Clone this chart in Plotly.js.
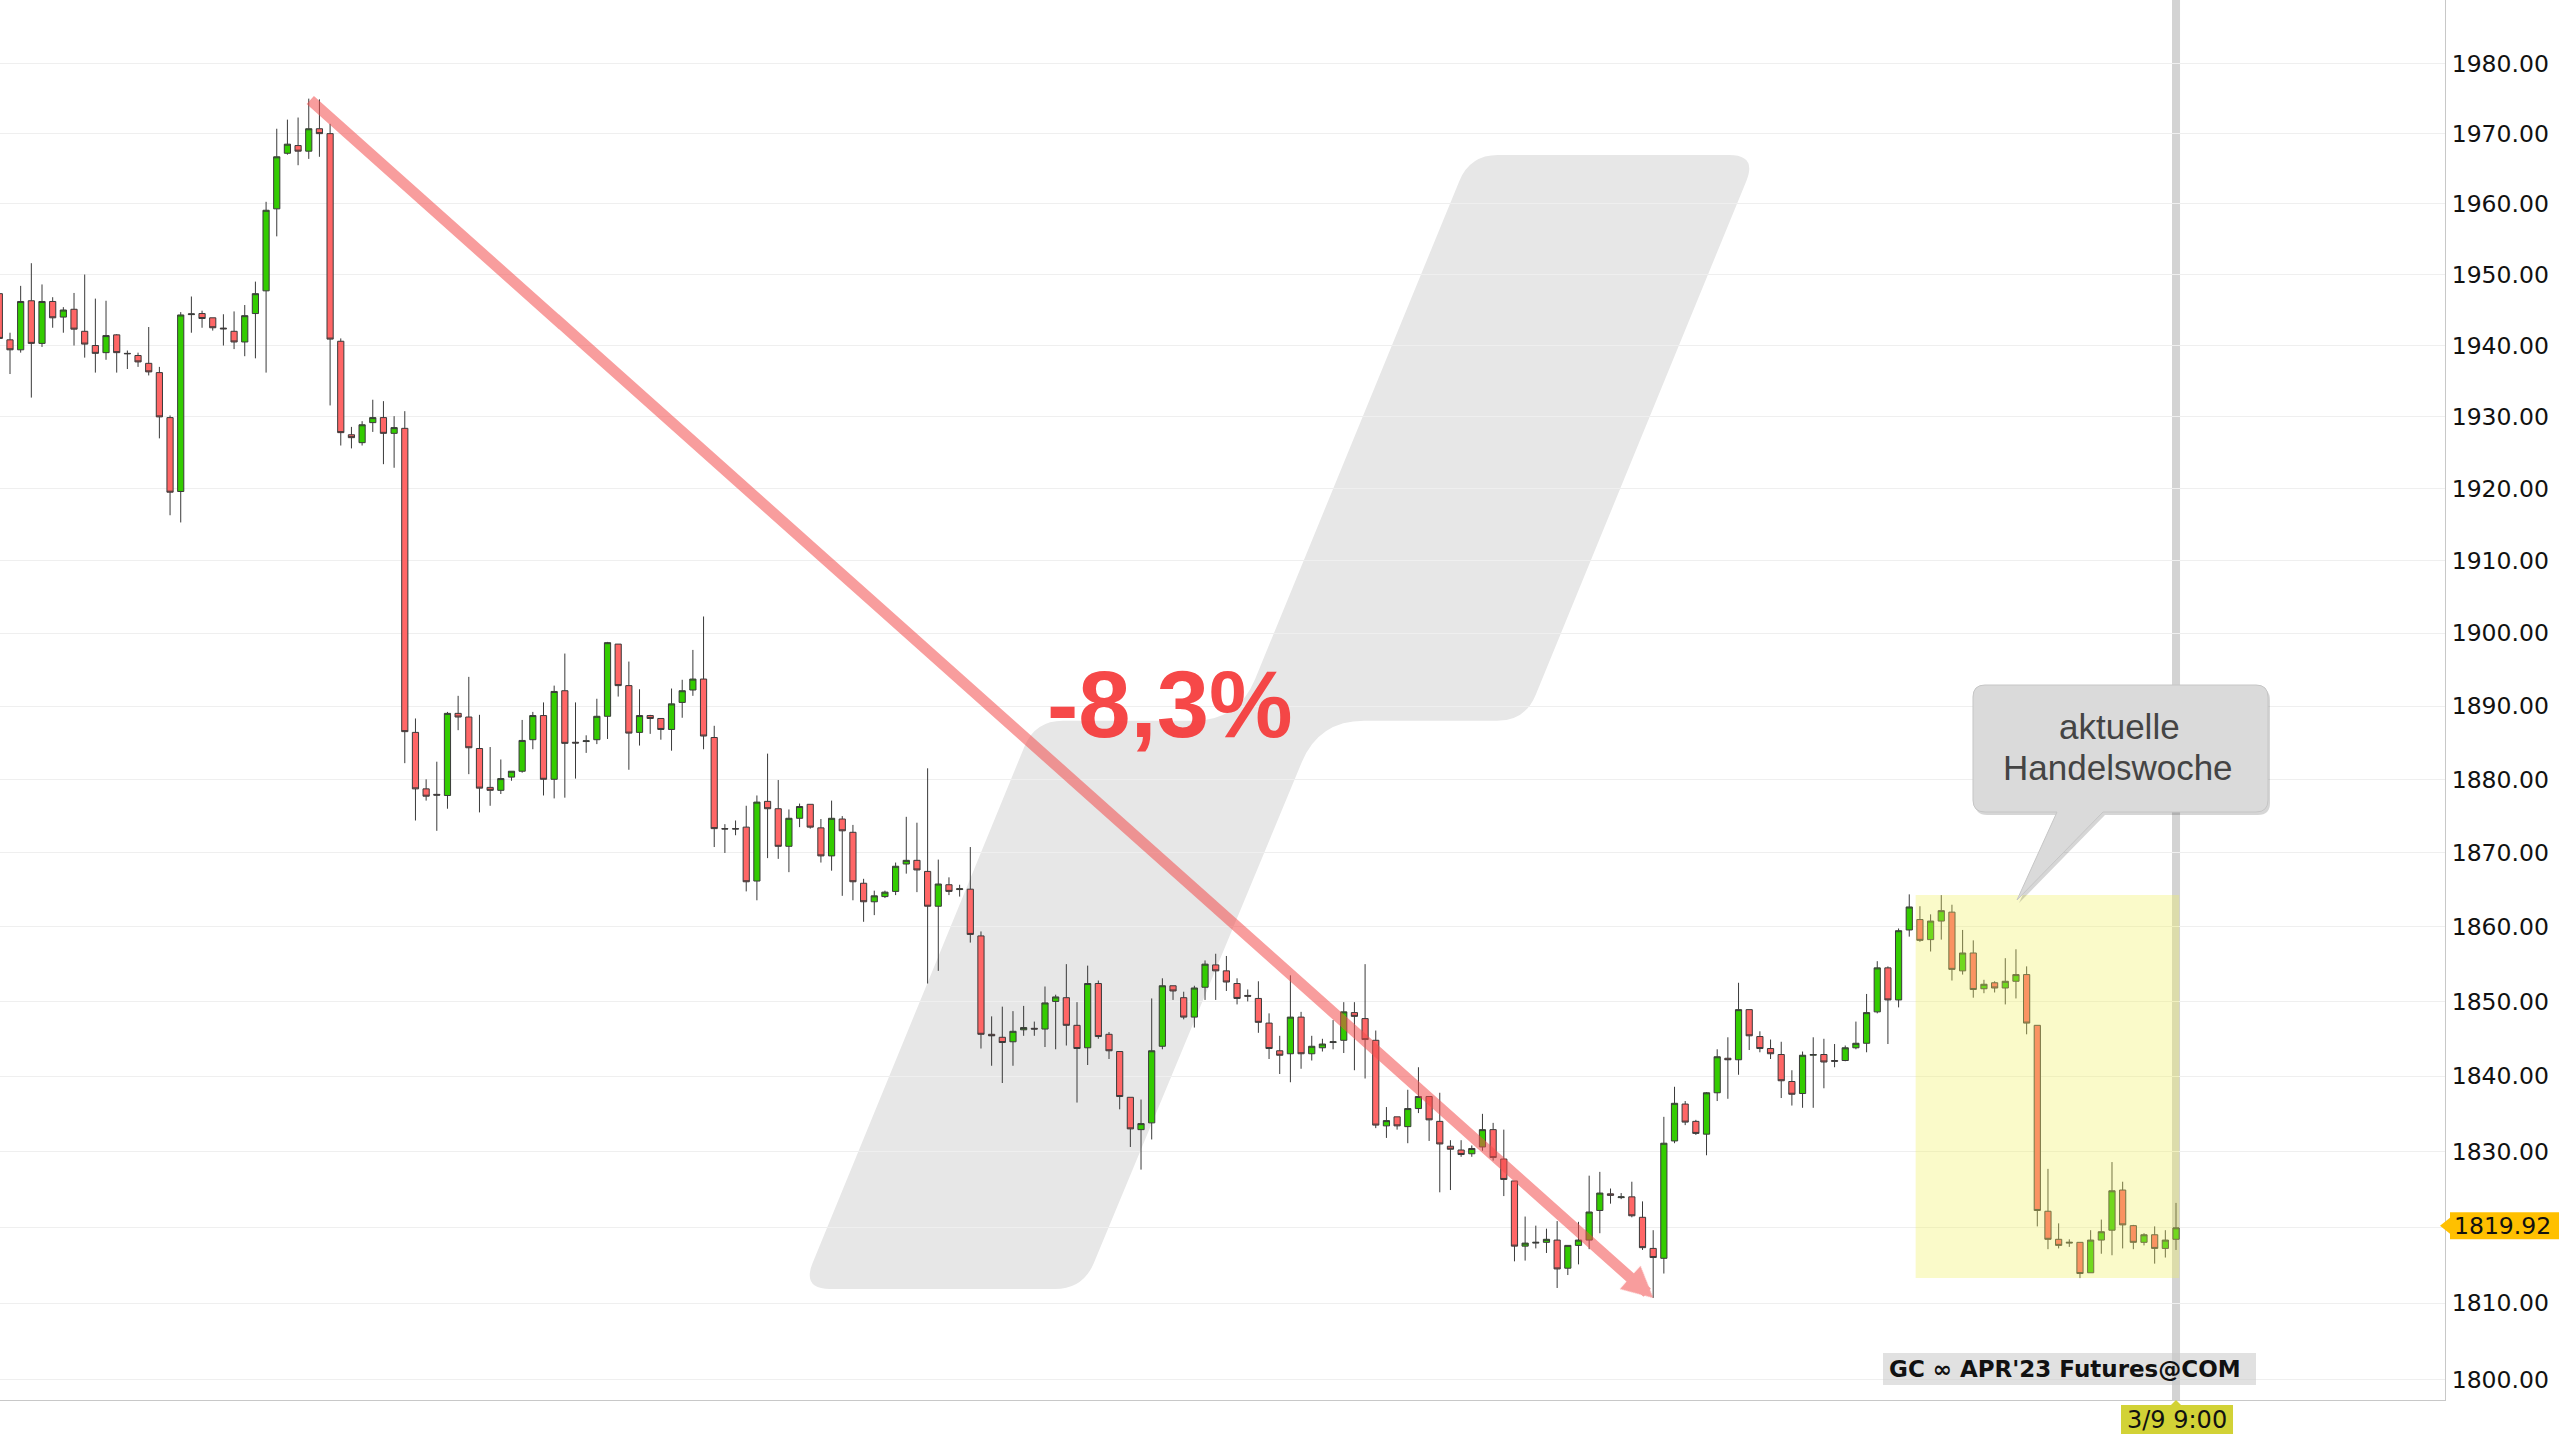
<!DOCTYPE html>
<html><head><meta charset="utf-8">
<script src="https://cdn.plot.ly/plotly-3.0.1.min.js"></script>
<style>html,body{margin:0;padding:0;background:#fff;overflow:hidden}#chart{width:2560px;height:1440px}</style>
</head><body><div id="chart"></div>
<script>
// ---- data ----
const openP = [1947.3,1940.8,1939.4,1946.3,1940.3,1946.2,1944.0,1945.1,1942.0,1940.0,
1939.0,1941.5,1938.9,1938.6,1937.5,1936.2,1929.9,1919.6,1944.35,1944.5,
1943.9,1942.45,1942.0,1940.5,1944.5,1947.7,1959.3,1967.2,1968.3,1967.5,
1970.7,1970.0,1940.6,1927.5,1926.4,1929.2,1929.9,1927.7,1928.4,1886.4,
1878.7,1877.95,1877.8,1889.0,1888.5,1884.2,1878.9,1878.5,1880.3,1881.1,
1885.4,1888.7,1880.0,1892.1,1885.05,1885.15,1885.4,1888.6,1898.5,1892.8,
1886.4,1888.7,1888.3,1886.8,1890.5,1892.2,1893.7,1885.7,1873.3,1873.3,
1873.5,1866.2,1877.0,1876.0,1870.9,1874.7,1876.6,1873.4,1869.6,1874.6,
1872.8,1865.9,1863.4,1864.1,1864.8,1868.5,1869.0,1867.5,1862.8,1865.7,
1865.05,1865.1,1858.8,1845.6,1845.2,1844.6,1846.2,1846.4,1846.3,1850.0,
1850.5,1846.8,1843.8,1852.4,1845.6,1843.3,1837.2,1832.9,1833.8,1844.0,
1852.1,1850.5,1847.9,1851.9,1854.9,1854.1,1852.4,1850.8,1850.4,1847.1,
1843.4,1843.0,1847.9,1843.0,1843.8,1844.5,1844.8,1848.5,1847.7,1844.8,
1833.4,1834.6,1833.3,1835.7,1837.3,1834.0,1830.7,1830.2,1829.7,1830.6,
1832.9,1829.0,1826.1,1817.5,1817.9,1818.0,1818.3,1814.6,1817.6,1818.3,
1822.2,1824.4,1823.9,1824.0,1821.3,1817.2,1815.9,1831.4,1836.3,1834.0,
1832.3,1837.8,1842.4,1842.2,1848.9,1845.3,1843.7,1842.9,1839.3,1837.7,
1842.8,1842.9,1842.1,1842.1,1843.8,1844.4,1848.6,1854.5,1850.2,1859.6,
1861.0,1858.3,1860.8,1862.0,1854.1,1856.5,1851.7,1852.5,1851.8,1852.7,
1853.6,1846.8,1822.1,1818.4,1817.9,1818.0,1814.0,1818.3,1819.6,1824.9,
1820.2,1818.0,1819.0,1817.2,1818.4];
const highP = [1949.5,1941.8,1948.4,1951.6,1948.6,1946.8,1945.4,1947.4,1950.0,1946.6,
1946.3,1941.6,1939.3,1939.0,1942.6,1937.0,1930.2,1944.7,1946.9,1944.9,
1943.9,1944.4,1944.8,1945.7,1949.0,1960.3,1970.7,1972.0,1972.3,1975.0,
1974.9,1971.4,1941.0,1928.6,1929.4,1932.4,1932.2,1930.1,1930.8,1888.3,
1880.0,1882.4,1889.2,1891.4,1894.0,1888.8,1884.4,1882.7,1881.1,1888.1,
1889.2,1890.5,1892.8,1897.2,1890.5,1886.0,1891.0,1898.8,1898.5,1896.1,
1892.3,1888.8,1888.3,1892.4,1893.6,1897.7,1902.3,1887.3,1873.9,1874.4,
1876.4,1877.8,1883.5,1879.9,1875.9,1876.7,1876.6,1874.6,1877.1,1875.0,
1873.8,1866.5,1864.9,1864.9,1868.7,1874.9,1874.1,1881.5,1869.1,1866.7,
1865.7,1870.8,1859.4,1848.0,1849.3,1848.7,1849.4,1847.3,1852.0,1850.9,
1855.0,1849.9,1854.8,1852.8,1845.9,1843.3,1837.2,1836.9,1850.4,1853.1,
1852.1,1851.3,1852.1,1855.5,1856.4,1856.1,1853.1,1851.6,1852.7,1848.4,
1845.4,1853.5,1848.6,1845.4,1845.0,1847.5,1849.9,1849.9,1855.0,1846.1,
1835.9,1834.6,1838.2,1841.2,1837.3,1837.8,1831.5,1831.5,1830.8,1835.0,
1833.8,1832.9,1826.1,1821.4,1820.2,1819.8,1820.8,1817.6,1820.7,1826.8,
1827.3,1825.1,1824.5,1826.0,1823.4,1819.6,1834.6,1838.6,1836.7,1834.2,
1837.9,1843.6,1845.2,1852.5,1848.9,1846.0,1844.9,1844.6,1840.8,1843.3,
1845.2,1845.0,1844.3,1844.1,1847.3,1851.0,1855.4,1854.7,1859.8,1864.4,
1862.8,1861.7,1864.3,1863.0,1859.6,1858.2,1852.9,1852.7,1855.8,1857.0,
1854.7,1846.8,1827.7,1820.5,1818.4,1818.0,1819.6,1821.0,1828.6,1826.0,
1820.3,1819.2,1820.1,1819.6,1823.2];
const lowP = [1933.0,1936.0,1939.0,1932.7,1939.8,1942.5,1941.8,1940.0,1938.3,1936.2,
1938.0,1936.2,1936.7,1937.0,1935.8,1927.0,1916.3,1915.3,1941.8,1942.5,
1942.1,1940.0,1939.5,1938.5,1938.2,1936.2,1955.4,1967.0,1965.5,1966.4,
1966.7,1931.6,1926.0,1925.6,1926.0,1927.9,1923.4,1922.9,1882.2,1874.4,
1877.1,1873.0,1876.0,1886.7,1880.7,1875.5,1876.4,1878.0,1879.8,1880.9,
1884.1,1877.8,1877.4,1877.5,1880.1,1883.6,1884.8,1885.5,1891.3,1881.3,
1884.6,1886.2,1885.4,1883.9,1888.4,1891.4,1884.1,1870.8,1870.0,1872.4,
1864.8,1863.6,1869.3,1869.2,1867.4,1873.5,1873.3,1868.7,1867.6,1864.2,
1863.6,1860.7,1861.6,1863.9,1864.3,1867.2,1864.7,1852.4,1854.1,1864.3,
1864.1,1857.9,1843.7,1841.4,1839.1,1841.4,1845.4,1845.4,1843.9,1843.6,
1844.1,1836.5,1841.5,1845.0,1842.3,1835.6,1830.6,1827.6,1831.6,1843.6,
1850.2,1847.6,1846.5,1850.2,1850.2,1851.4,1849.6,1850.0,1845.8,1842.3,
1840.3,1839.2,1841.0,1842.1,1843.3,1843.6,1843.1,1840.8,1839.7,1833.1,
1831.8,1832.9,1831.1,1835.1,1831.4,1824.6,1824.9,1829.3,1829.3,1830.1,
1828.8,1824.1,1815.5,1815.6,1817.2,1816.6,1812.0,1813.7,1815.1,1817.1,
1819.2,1823.1,1823.7,1821.3,1817.0,1810.7,1813.9,1831.1,1833.5,1832.2,
1829.5,1836.7,1837.0,1840.2,1843.5,1843.2,1842.3,1837.1,1836.1,1835.8,
1835.8,1838.4,1841.2,1842.0,1843.6,1843.2,1848.4,1844.3,1849.2,1858.7,
1858.0,1856.7,1858.3,1852.8,1853.6,1850.5,1851.1,1851.2,1849.6,1850.4,
1845.6,1820.1,1817.1,1817.2,1817.4,1813.3,1814.0,1816.5,1816.3,1817.2,
1817.1,1817.6,1815.2,1816.0,1817.0];
const closeP = [1941.0,1939.4,1946.2,1940.3,1946.2,1943.9,1945.0,1942.3,1940.2,1938.9,
1941.4,1939.0,1938.85,1937.7,1936.3,1930.0,1919.5,1944.3,1944.45,1943.8,
1942.5,1942.35,1940.5,1944.2,1947.3,1959.1,1966.7,1968.5,1967.5,1970.7,
1970.0,1940.9,1927.8,1927.1,1928.9,1929.9,1927.7,1928.5,1886.5,1878.7,
1877.7,1877.85,1889.0,1888.5,1884.3,1878.8,1878.5,1880.1,1881.1,1885.3,
1888.7,1880.0,1892.0,1884.9,1884.95,1885.25,1888.6,1898.7,1892.8,1886.3,
1888.7,1888.3,1886.8,1890.3,1892.1,1893.7,1885.9,1873.3,1873.25,1873.25,
1866.1,1876.9,1876.0,1870.9,1874.7,1876.3,1873.5,1869.6,1874.7,1873.0,
1866.1,1863.4,1864.2,1864.7,1868.2,1869.0,1867.7,1862.8,1865.8,1864.8,
1865.15,1859.0,1845.6,1845.4,1844.5,1846.0,1846.5,1846.3,1849.8,1850.6,
1846.8,1843.7,1852.4,1845.3,1843.4,1837.3,1833.0,1833.7,1843.4,1852.1,
1851.4,1847.9,1851.8,1855.0,1854.1,1852.6,1850.4,1850.7,1847.2,1843.7,
1842.8,1847.9,1843.0,1844.0,1844.3,1844.6,1848.6,1848.0,1844.9,1833.5,
1834.1,1833.4,1835.7,1837.3,1834.2,1831.0,1830.3,1829.6,1830.4,1832.9,
1829.2,1826.3,1817.5,1817.9,1818.0,1818.4,1814.5,1817.6,1818.3,1822.0,
1824.5,1824.2,1824.0,1821.5,1817.3,1816.0,1831.1,1836.4,1833.9,1832.4,
1837.8,1842.6,1842.2,1848.9,1845.4,1843.7,1843.0,1839.4,1837.6,1842.8,
1842.9,1841.9,1842.0,1843.8,1844.4,1848.5,1854.5,1850.2,1859.5,1862.7,
1858.2,1860.8,1862.2,1854.3,1856.5,1851.6,1852.3,1851.8,1852.7,1853.6,
1847.1,1822.2,1818.4,1817.6,1818.0,1813.9,1818.3,1819.4,1824.8,1820.3,
1818.0,1819.0,1817.2,1818.3,1819.92];
const priceTicks = [1800,1810,1820,1830,1840,1850,1860,1870,1880,1890,1900,1910,1920,1930,1940,1950,1960,1970,1980];
const tickLabels = priceTicks.map(v => v.toFixed(2));
const currentWeekStart = 180;           // first bar of the highlighted trading week
const symbolLabel = "GC \u221e APR'23 Futures@COM";
const lastTimeLabel = '3/9 9:00';
const calloutLines = ['aktuelle', 'Handelswoche'];

// ---- geometry ----
const W = 2560, H = 1440, M = {l: 0, r: 115, t: 0, b: 40};
const plotW = W - M.l - M.r, plotH = H - M.t - M.b;
const xr = [0.063, 229.21];
const yr = [Math.log10(1797.36), Math.log10(1989.16)];
const xPix = i => (i - xr[0]) / (xr[1] - xr[0]) * plotW;
const yPix = p => (yr[1] - Math.log10(p)) / (yr[1] - yr[0]) * plotH;
const px = x => x / plotW;
const py = y => 1 - y / plotH;
const P = pt => px(pt[0]).toFixed(5) + ',' + py(pt[1]).toFixed(5);

function roundedPath(pts, radii) {
  let d = '';
  const n = pts.length;
  for (let i = 0; i < n; i++) {
    const p0 = pts[(i - 1 + n) % n], p1 = pts[i], p2 = pts[(i + 1) % n];
    const r = radii[i];
    const l1 = Math.hypot(p0[0] - p1[0], p0[1] - p1[1]);
    const l2 = Math.hypot(p2[0] - p1[0], p2[1] - p1[1]);
    const a = [p1[0] + (p0[0] - p1[0]) * r / l1, p1[1] + (p0[1] - p1[1]) * r / l1];
    const b = [p1[0] + (p2[0] - p1[0]) * r / l2, p1[1] + (p2[1] - p1[1]) * r / l2];
    d += (i === 0 ? 'M' : 'L') + P(a) + ' Q' + P(p1) + ' ' + P(b) + ' ';
  }
  return d + 'Z';
}

const idx = openP.map((_, i) => i);
const last = idx.length - 1;
const lastClose = closeP[last];

let iHi = 0, iLo = 0;
highP.forEach((v, i) => { if (v > highP[iHi]) iHi = i; });
lowP.forEach((v, i) => { if (v < lowP[iLo]) iLo = i; });
const pct = ((lowP[iLo] / highP[iHi] - 1) * 100).toFixed(1).replace('.', ',') + '%';

const weekHigh = Math.max(...highP.slice(currentWeekStart));
const weekLow = Math.min(...lowP.slice(currentWeekStart));

// watermark logo
const logoPts = [[802,1289],[1035,720.8],[1238,720.8],[1470,155],[1757,155],[1525,720.8],[1319,720.8],[1083,1289]];
const logoR = [28,28,45,28,28,28,45,28];

// callout
const cb = {x1: 1973, x2: 2268, y1: 685, y2: 812};
const calloutPts = [[cb.x1,cb.y1],[cb.x2,cb.y1],[cb.x2,cb.y2],[2103,cb.y2],[2017,900],[2057,cb.y2],[cb.x1,cb.y2]];
const calloutR = [12,12,12,0,0,0,12];
const shadowPts = calloutPts.map(p => [p[0] + 2, p[1] + 3]);

const xLast = xPix(last);
const yLast = yPix(lastClose) - 2;

const shapes = [
  {type: 'path', xref: 'paper', yref: 'paper', path: roundedPath(logoPts, logoR), fillcolor: '#e7e7e7', line: {width: 0}, layer: 'below'},
  {type: 'line', xref: 'x', yref: 'paper', x0: last, x1: last, y0: 0, y1: 1, line: {color: 'rgba(200,200,200,0.8)', width: 8}, layer: 'below'},
  {type: 'rect', xref: 'x', yref: 'paper', x0: currentWeekStart - 0.4, x1: last + 0.3,
   y0: py(yPix(weekLow)), y1: py(yPix(weekHigh)), fillcolor: 'rgba(240,240,90,0.33)', line: {width: 0}, layer: 'above'},
  {type: 'path', xref: 'paper', yref: 'paper', path: roundedPath(shadowPts, calloutR), fillcolor: 'rgba(0,0,0,0.16)', line: {width: 0}, layer: 'above'},
  {type: 'path', xref: 'paper', yref: 'paper', path: roundedPath(calloutPts, calloutR), fillcolor: '#dadada', line: {color: '#c6c6c6', width: 1}, layer: 'above'},
  {type: 'rect', xref: 'paper', yref: 'paper', x0: px(1883), x1: px(2256), y0: py(1385), y1: py(1353), fillcolor: 'rgba(200,200,200,0.55)', line: {width: 0}, layer: 'above'},
  // last price tag
  {type: 'rect', xref: 'paper', yref: 'paper', x0: px(2450), x1: px(2559), y0: py(yLast + 13.5), y1: py(yLast - 13.5), fillcolor: '#ffc000', line: {width: 0}, layer: 'above'},
  {type: 'path', xref: 'paper', yref: 'paper', path: 'M' + P([2440, yLast]) + ' L' + P([2450, yLast - 8]) + ' L' + P([2450, yLast + 8]) + ' Z', fillcolor: '#ffc000', line: {width: 0}, layer: 'above'},
  // time tag
  {type: 'rect', xref: 'paper', yref: 'paper', x0: px(xLast - 55), x1: px(xLast + 57), y0: py(1434), y1: py(1405), fillcolor: '#d2d236', line: {width: 0}, layer: 'above'},
  {type: 'path', xref: 'paper', yref: 'paper', path: 'M' + P([xLast - 5, 1405]) + ' L' + P([xLast, 1400]) + ' L' + P([xLast + 5, 1405]) + ' Z', fillcolor: '#d2d236', line: {width: 0}, layer: 'above'}
];

const annotations = [
  {xref: 'x', yref: 'y', x: iLo, y: Math.log10(lowP[iLo]), axref: 'pixel', ayref: 'pixel',
   ax: xPix(iHi) - xPix(iLo), ay: yPix(highP[iHi]) - yPix(lowP[iLo]),
   text: '', showarrow: true, arrowhead: 2, arrowsize: 0.56, arrowwidth: 11, arrowcolor: 'rgba(242,78,78,0.55)', standoff: 0},
  {xref: 'paper', yref: 'paper', x: px(1169.5), y: py(704), xanchor: 'center', yanchor: 'middle', showarrow: false,
   text: '<b>' + pct + '</b>', font: {family: 'Liberation Sans, Arial, sans-serif', size: 94, color: 'rgba(245,52,52,0.9)'}},
  {xref: 'paper', yref: 'paper', x: px(2119), y: py(738.3 - 12.1), xanchor: 'center', yanchor: 'middle', showarrow: false,
   text: calloutLines[0], font: {family: 'Liberation Sans, Arial, sans-serif', size: 35, color: '#444444'}},
  {xref: 'paper', yref: 'paper', x: px(2118), y: py(780 - 12.1), xanchor: 'center', yanchor: 'middle', showarrow: false,
   text: calloutLines[1], font: {family: 'Liberation Sans, Arial, sans-serif', size: 35, color: '#444444'}},
  {xref: 'paper', yref: 'paper', x: px(1887), y: py(1369), xanchor: 'left', yanchor: 'middle', showarrow: false,
   text: '<b>' + symbolLabel + '</b>', font: {family: 'DejaVu Sans', size: 23, color: '#111111'}},
  {xref: 'paper', yref: 'paper', x: px(2452), y: py(yLast), xanchor: 'left', yanchor: 'middle', showarrow: false,
   text: lastClose.toFixed(2), font: {family: 'DejaVu Sans', size: 23.5, color: '#111111'}},
  {xref: 'paper', yref: 'paper', x: px(xLast + 1), y: py(1419.5), xanchor: 'center', yanchor: 'middle', showarrow: false,
   text: lastTimeLabel, font: {family: 'DejaVu Sans', size: 24, color: '#111111'}}
];

const trace = {
  type: 'candlestick', x: idx, open: openP, high: highP, low: lowP, close: closeP,
  increasing: {line: {color: '#3a3a3a', width: 1}, fillcolor: '#33cc00'},
  decreasing: {line: {color: '#3a3a3a', width: 1}, fillcolor: '#ff6666'},
  whiskerwidth: 0, hoverinfo: 'skip', showlegend: false
};

const layout = {
  width: W, height: H, margin: {l: M.l, r: M.r, t: M.t, b: M.b, pad: 0},
  paper_bgcolor: '#ffffff', plot_bgcolor: '#ffffff', showlegend: false,
  boxgap: 0.42, boxgroupgap: 0,
  font: {family: 'DejaVu Sans', color: '#111'},
  xaxis: {range: xr, showgrid: false, zeroline: false, showticklabels: false, ticks: '',
          showline: true, linecolor: '#c8c8c8', linewidth: 1, rangeslider: {visible: false}, fixedrange: true},
  yaxis: {type: 'log', range: yr, side: 'right', tickmode: 'array', tickvals: priceTicks, ticktext: tickLabels,
          showgrid: true, gridcolor: '#efefef', gridwidth: 1, zeroline: false, showline: true, linecolor: '#c8c8c8',
          ticks: '', ticklabelstandoff: 1, tickfont: {family: 'DejaVu Sans', size: 23.5, color: '#111111'}, fixedrange: true},
  shapes: shapes,
  annotations: annotations
};

Plotly.newPlot('chart', [trace], layout, {displayModeBar: false, staticPlot: true});
</script>
</body></html>
